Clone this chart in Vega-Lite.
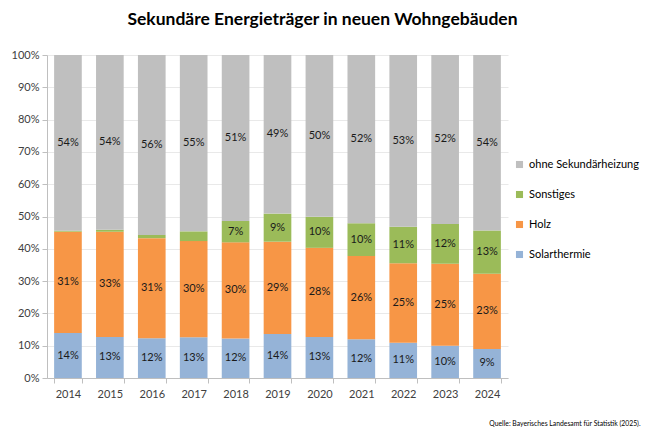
{
  "$schema": "https://vega.github.io/schema/vega-lite/v6.json",
  "width": 461,
  "height": 323,
  "autosize": {"type": "none"},
  "padding": {"left": 47, "top": 55, "right": 138, "bottom": 53},
  "background": "white",
  "title": {
    "text": "Sekundäre Energieträger in neuen Wohngebäuden",
    "font": "Lato",
    "fontSize": 17.5,
    "fontWeight": "bold",
    "color": "#000000",
    "anchor": "middle",
    "frame": "group",
    "dx": 45,
    "offset": 21
  },
  "config": {
    "view": {"stroke": null},
    "font": "Lato",
    "axis": {
      "labelFont": "Lato",
      "labelFontSize": 11,
      "labelColor": "#404040",
      "domainColor": "#bfbfbf",
      "tickColor": "#bfbfbf",
      "tickSize": 5,
      "gridColor": "#e9e9e9"
    },
    "legend": {"labelFont": "Lato", "labelFontSize": 11, "labelColor": "#000000"}
  },
  "data": {
    "values": [
      {"jahr": "2014", "typ": "Solarthermie", "anteil": 0.139},
      {"jahr": "2014", "typ": "Holz", "anteil": 0.314},
      {"jahr": "2014", "typ": "Sonstiges", "anteil": 0.003},
      {"jahr": "2014", "typ": "ohne Sekundärheizung", "anteil": 0.544},
      {"jahr": "2015", "typ": "Solarthermie", "anteil": 0.127},
      {"jahr": "2015", "typ": "Holz", "anteil": 0.326},
      {"jahr": "2015", "typ": "Sonstiges", "anteil": 0.006},
      {"jahr": "2015", "typ": "ohne Sekundärheizung", "anteil": 0.541},
      {"jahr": "2016", "typ": "Solarthermie", "anteil": 0.123},
      {"jahr": "2016", "typ": "Holz", "anteil": 0.31},
      {"jahr": "2016", "typ": "Sonstiges", "anteil": 0.01},
      {"jahr": "2016", "typ": "ohne Sekundärheizung", "anteil": 0.557},
      {"jahr": "2017", "typ": "Solarthermie", "anteil": 0.126},
      {"jahr": "2017", "typ": "Holz", "anteil": 0.298},
      {"jahr": "2017", "typ": "Sonstiges", "anteil": 0.03},
      {"jahr": "2017", "typ": "ohne Sekundärheizung", "anteil": 0.546},
      {"jahr": "2018", "typ": "Solarthermie", "anteil": 0.122},
      {"jahr": "2018", "typ": "Holz", "anteil": 0.298},
      {"jahr": "2018", "typ": "Sonstiges", "anteil": 0.066},
      {"jahr": "2018", "typ": "ohne Sekundärheizung", "anteil": 0.514},
      {"jahr": "2019", "typ": "Solarthermie", "anteil": 0.136},
      {"jahr": "2019", "typ": "Holz", "anteil": 0.286},
      {"jahr": "2019", "typ": "Sonstiges", "anteil": 0.087},
      {"jahr": "2019", "typ": "ohne Sekundärheizung", "anteil": 0.491},
      {"jahr": "2020", "typ": "Solarthermie", "anteil": 0.127},
      {"jahr": "2020", "typ": "Holz", "anteil": 0.276},
      {"jahr": "2020", "typ": "Sonstiges", "anteil": 0.096},
      {"jahr": "2020", "typ": "ohne Sekundärheizung", "anteil": 0.501},
      {"jahr": "2021", "typ": "Solarthermie", "anteil": 0.12},
      {"jahr": "2021", "typ": "Holz", "anteil": 0.258},
      {"jahr": "2021", "typ": "Sonstiges", "anteil": 0.101},
      {"jahr": "2021", "typ": "ohne Sekundärheizung", "anteil": 0.521},
      {"jahr": "2022", "typ": "Solarthermie", "anteil": 0.109},
      {"jahr": "2022", "typ": "Holz", "anteil": 0.246},
      {"jahr": "2022", "typ": "Sonstiges", "anteil": 0.113},
      {"jahr": "2022", "typ": "ohne Sekundärheizung", "anteil": 0.532},
      {"jahr": "2023", "typ": "Solarthermie", "anteil": 0.1},
      {"jahr": "2023", "typ": "Holz", "anteil": 0.254},
      {"jahr": "2023", "typ": "Sonstiges", "anteil": 0.123},
      {"jahr": "2023", "typ": "ohne Sekundärheizung", "anteil": 0.523},
      {"jahr": "2024", "typ": "Solarthermie", "anteil": 0.09},
      {"jahr": "2024", "typ": "Holz", "anteil": 0.233},
      {"jahr": "2024", "typ": "Sonstiges", "anteil": 0.134},
      {"jahr": "2024", "typ": "ohne Sekundärheizung", "anteil": 0.543}
    ]
  },
  "transform": [
    {"calculate": "indexof(['Solarthermie','Holz','Sonstiges','ohne Sekundärheizung'], datum.typ)", "as": "reihenfolge"}
  ],
  "encoding": {
    "x": {
      "field": "jahr",
      "type": "ordinal",
      "scale": {"paddingInner": 0.34, "paddingOuter": 0.17},
      "axis": {
        "title": "Quelle: Bayerisches Landesamt für Statistik (2025).",
        "titleFont": "Lato",
        "titleFontSize": 6.8,
        "titleFontWeight": "normal",
        "titleColor": "#000000",
        "titleAnchor": "end",
        "titleAlign": "right",
        "titleBaseline": "alphabetic",
        "titleX": 593,
        "titleY": 47,
        "labelAngle": 0,
        "labelPadding": 5,
        "tickBand": "extent",
        "grid": false
      }
    },
    "y": {
      "field": "anteil",
      "type": "quantitative",
      "stack": "zero",
      "scale": {"domain": [0, 1], "nice": false},
      "axis": {
        "title": null,
        "format": ".0%",
        "values": [0, 0.1, 0.2, 0.3, 0.4, 0.5, 0.6, 0.7, 0.8, 0.9, 1],
        "labelOverlap": false,
        "labelPadding": 3,
        "grid": true
      }
    },
    "order": {"field": "reihenfolge", "type": "quantitative"}
  },
  "layer": [
    {
      "mark": {"type": "bar"},
      "encoding": {
        "color": {
          "field": "typ",
          "type": "nominal",
          "scale": {
            "domain": ["ohne Sekundärheizung", "Sonstiges", "Holz", "Solarthermie"],
            "range": ["#bfbfbf", "#9bbb59", "#f79646", "#95b3d7"]
          },
          "legend": {
            "title": null,
            "orient": "none",
            "legendX": 467,
            "legendY": 104,
            "symbolType": "square",
            "symbolSize": 50,
            "symbolStrokeWidth": 0,
            "labelOffset": 4,
            "rowPadding": 18
          }
        }
      }
    },
    {
      "mark": {"type": "text", "font": "Lato", "fontSize": 11, "color": "#1a1a1a"},
      "encoding": {
        "y": {"field": "anteil", "type": "quantitative", "stack": "zero", "bandPosition": 0.5},
        "text": {
          "condition": {"test": "datum.anteil < 0.05", "value": ""},
          "field": "anteil",
          "type": "quantitative",
          "format": ".0%"
        }
      }
    }
  ]
}
